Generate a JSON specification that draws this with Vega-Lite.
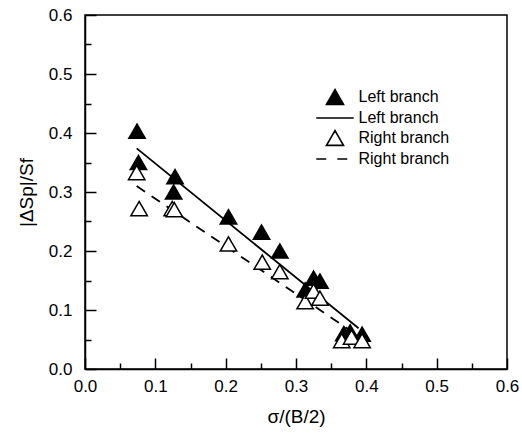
{
  "$schema": "https://vega.github.io/schema/vega-lite/v6.json",
  "width": 422,
  "height": 354,
  "autosize": {"type": "none"},
  "padding": {"left": 85, "top": 15, "right": 15, "bottom": 65},
  "background": "white",
  "config": {
    "view": {"stroke": "black", "strokeWidth": 1.5},
    "axis": {
      "grid": false,
      "domainColor": "black",
      "domainWidth": 1.5,
      "tickColor": "black",
      "tickWidth": 1.5,
      "labelFont": "Liberation Sans",
      "labelFontSize": 17,
      "labelColor": "black",
      "labelFlush": false,
      "labelOverlap": false,
      "titleFont": "Liberation Sans",
      "titleFontWeight": "normal",
      "titleColor": "black"
    }
  },
  "resolve": {"axis": {"x": "independent", "y": "independent"}},
  "datasets": {
    "lfit": [
      {"s": "L fit", "x": 0.0735, "y": 0.374},
      {"s": "L fit", "x": 0.389, "y": 0.069}
    ],
    "rfit": [
      {"s": "R fit", "x": 0.0735, "y": 0.310},
      {"s": "R fit", "x": 0.39, "y": 0.055}
    ],
    "pts": [
      {"s": "L pts", "x": 0.074, "y": 0.403},
      {"s": "L pts", "x": 0.076, "y": 0.350},
      {"s": "L pts", "x": 0.128, "y": 0.326},
      {"s": "L pts", "x": 0.126, "y": 0.300},
      {"s": "L pts", "x": 0.204, "y": 0.258},
      {"s": "L pts", "x": 0.251, "y": 0.232},
      {"s": "L pts", "x": 0.277, "y": 0.200},
      {"s": "L pts", "x": 0.313, "y": 0.134},
      {"s": "L pts", "x": 0.325, "y": 0.154},
      {"s": "L pts", "x": 0.334, "y": 0.149},
      {"s": "L pts", "x": 0.368, "y": 0.060},
      {"s": "L pts", "x": 0.377, "y": 0.063},
      {"s": "L pts", "x": 0.394, "y": 0.059},
      {"s": "R pts", "x": 0.0735, "y": 0.333},
      {"s": "R pts", "x": 0.077, "y": 0.272},
      {"s": "R pts", "x": 0.124, "y": 0.272},
      {"s": "R pts", "x": 0.127, "y": 0.270},
      {"s": "R pts", "x": 0.204, "y": 0.212},
      {"s": "R pts", "x": 0.252, "y": 0.181},
      {"s": "R pts", "x": 0.277, "y": 0.165},
      {"s": "R pts", "x": 0.313, "y": 0.114},
      {"s": "R pts", "x": 0.325, "y": 0.132},
      {"s": "R pts", "x": 0.334, "y": 0.120},
      {"s": "R pts", "x": 0.365, "y": 0.048},
      {"s": "R pts", "x": 0.379, "y": 0.054},
      {"s": "R pts", "x": 0.394, "y": 0.048}
    ]
  },
  "layer": [
    {
      "data": {"name": "lfit"},
      "mark": {"type": "line", "color": "black", "strokeWidth": 1.8},
      "encoding": {
        "x": {
          "field": "x", "type": "quantitative",
          "scale": {"domain": [0, 0.6], "nice": false, "zero": false},
          "axis": {"orient": "bottom", "values": [0.05, 0.15, 0.25, 0.35, 0.45, 0.55], "tickSize": -6, "labels": false, "domain": false, "title": null}
        },
        "y": {
          "field": "y", "type": "quantitative",
          "scale": {"domain": [0, 0.6], "nice": false, "zero": false},
          "axis": {"orient": "left", "values": [0.05, 0.15, 0.25, 0.35, 0.45, 0.55], "tickSize": -6, "labels": false, "domain": false, "title": null}
        }
      }
    },
    {
      "data": {"name": "rfit"},
      "mark": {"type": "line", "color": "black", "strokeWidth": 1.8, "strokeDash": [10, 8]},
      "encoding": {
        "x": {"field": "x", "type": "quantitative", "axis": null},
        "y": {"field": "y", "type": "quantitative", "axis": null}
      }
    },
    {
      "data": {"name": "pts"},
      "mark": {"type": "point", "filled": true, "stroke": "black", "strokeWidth": 1.5, "opacity": 1, "size": 270},
      "encoding": {
        "x": {
          "field": "x", "type": "quantitative",
          "axis": {
            "orient": "bottom",
            "title": "σ/(B/2)",
            "titleFontSize": 19,
            "titlePadding": 13,
            "values": [0, 0.1, 0.2, 0.3, 0.4, 0.5, 0.6],
            "format": ".1f",
            "tickSize": -11,
            "labelPadding": 20
          }
        },
        "y": {
          "field": "y", "type": "quantitative",
          "axis": {
            "orient": "left",
            "title": "|ΔSp|/Sf",
            "titleFontSize": 19,
            "titlePadding": 12,
            "values": [0, 0.1, 0.2, 0.3, 0.4, 0.5, 0.6],
            "format": ".1f",
            "tickSize": -11,
            "labelPadding": 24
          }
        },
        "fill": {
          "field": "s", "type": "nominal",
          "scale": {"domain": ["L pts", "L fit", "R pts", "R fit"], "range": ["black", "transparent", "white", "transparent"]},
          "legend": {
            "title": null, "orient": "none", "legendX": 240.5, "legendY": 72.5, "padding": 0,
            "symbolSize": 289, "symbolStrokeWidth": 1.6,
            "labelFont": "Liberation Sans", "labelFontSize": 16, "labelColor": "black",
            "labelOffset": 14, "rowPadding": 0,
            "labelExpr": "indexof(datum.label,'L ')==0 ? 'Left branch' : 'Right branch'"
          }
        },
        "strokeDash": {
          "field": "s", "type": "nominal",
          "scale": {"domain": ["L pts", "L fit", "R pts", "R fit"], "range": [[1, 0], [1, 0], [1, 0], [10, 11]]},
          "legend": {
            "title": null, "orient": "none", "legendX": 240.5, "legendY": 72.5, "padding": 0,
            "symbolSize": 289, "symbolStrokeWidth": 1.6,
            "labelFont": "Liberation Sans", "labelFontSize": 16, "labelColor": "black",
            "labelOffset": 14, "rowPadding": 0,
            "labelExpr": "indexof(datum.label,'L ')==0 ? 'Left branch' : 'Right branch'"
          }
        },
        "shape": {
          "field": "s", "type": "nominal",
          "scale": {
            "domain": ["L pts", "L fit", "R pts", "R fit"],
            "range": ["triangle-up", "M-2.2,0L2.2,0", "triangle-up", "M-2.2,0L2.2,0"]
          },
          "legend": {
            "title": null, "orient": "none", "legendX": 240.5, "legendY": 72.5, "padding": 0,
            "symbolSize": 289, "symbolStrokeWidth": 1.6,
            "labelFont": "Liberation Sans", "labelFontSize": 16, "labelColor": "black",
            "labelOffset": 14, "rowPadding": 0,
            "labelExpr": "indexof(datum.label,'L ')==0 ? 'Left branch' : 'Right branch'"
          }
        }
      }
    }
  ]
}
